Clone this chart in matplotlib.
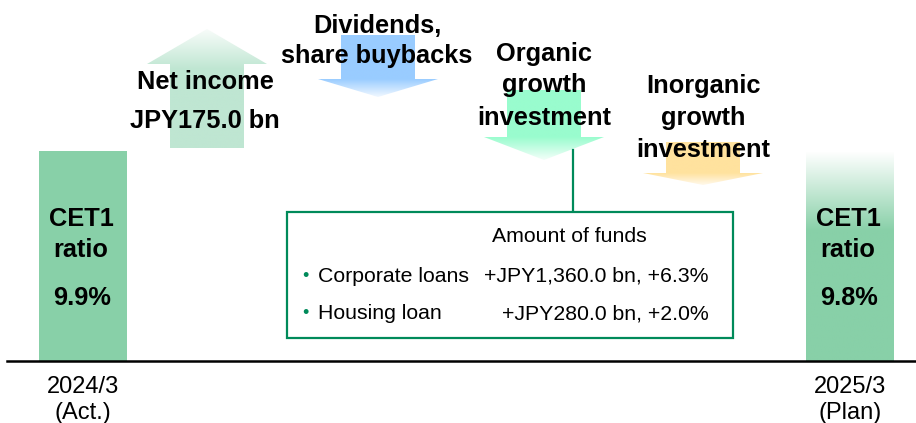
import numpy as np
import matplotlib.pyplot as plt
from matplotlib.patches import Polygon, Rectangle
from matplotlib.colors import to_rgb

plt.rcParams['font.family'] = ['Liberation Sans', 'DejaVu Sans']

# === Data ===
periods = ["2024/3", "2025/3"]
period_notes = ["(Act.)", "(Plan)"]
cet1_ratio = [9.9, 9.8]

flow_labels = [
    ["Net income", "JPY175.0 bn"],
    ["Dividends,", "share buybacks"],
    ["Organic", "growth", "investment"],
    ["Inorganic", "growth", "investment"],
]
flow_direction = [1, -1, -1, -1]   # 1 = up (adds capital), -1 = down (uses capital)

fund_title = "Amount of funds"
loan_items = ["Corporate loans", "Housing loan"]
loan_amounts = ["+JPY1,360.0 bn, +6.3%", "+JPY280.0 bn, +2.0%"]

# === Layout (pixel coordinates, y grows downwards) ===
W, H = 916, 423
base_y = 361
bar_x = [83, 850]
bar_w = 88
bar_top = 151
flow_x = [207, 378, 544, 703]
flow_span = [(29, 148), (35, 97), (90, 160), (142, 185)]   # (top, bottom) of each arrow
head_len = [35, 18, 23, 12]
flow_colors = ["#bfe6d2", "#99ccff", "#99fcce", "#ffe29e"]
flow_text_base = [[89, 128], [33, 63], [61, 92, 125], [93, 125, 157]]
flow_text_x = [205, 377, 544, 703]
shaft_w, head_w = 74, 120

bar_color = "#88d0a8"
green = "#008a5a"

fig = plt.figure(figsize=(W / 100, H / 100), dpi=100)
ax = fig.add_axes([0, 0, 1, 1])
ax.axis('off')


def gradient_fill(patch, color, y_white, y_full, zorder=1):
    """Fill a patch with a vertical white->color gradient."""
    ax.add_patch(patch)
    patch.set_facecolor('none')
    patch.set_edgecolor('none')
    ext = patch.get_path().get_extents(patch.get_transform() - ax.transData)
    ys = np.linspace(ext.y0, ext.y1, 200)
    t = np.clip((ys - y_white) / (y_full - y_white), 0, 1)
    c = np.array(to_rgb(color))
    img = (1 - t[:, None]) * np.ones(3) + t[:, None] * c
    im = ax.imshow(img[:, None, :], extent=(ext.x0, ext.x1, ext.y1, ext.y0),
                   origin='upper', aspect='auto', zorder=zorder, interpolation='bilinear')
    im.set_clip_path(patch)


# === CET1 bars (drawn the same height, it's a concept chart) ===
col_h = [base_y - bar_top] * len(cet1_ratio)
bars = ax.bar(bar_x, [-h for h in col_h], width=bar_w, bottom=base_y, color=bar_color, zorder=1)
# plan bar fades out at the top
bars[1].set_visible(False)
b = bars[1]
gradient_fill(Rectangle((b.get_x(), base_y - col_h[1]), b.get_width(), col_h[1]),
              bar_color, bar_top, bar_top + 80)

for i, r in enumerate(cet1_ratio):
    cx = bar_x[i] - 2
    ax.text(cx, 226, "CET1", ha='center', va='baseline', fontsize=18.3, fontweight='bold', zorder=5)
    ax.text(cx, 257, "ratio", ha='center', va='baseline', fontsize=18.3, fontweight='bold', zorder=5)
    ax.text(cx + 1, 305, f"{r:.1f}%", ha='center', va='baseline', fontsize=18.3, fontweight='bold', zorder=5)
    ax.text(bar_x[i], 393, periods[i], ha='center', va='baseline', fontsize=17, zorder=5)
    ax.text(bar_x[i], 419, period_notes[i], ha='center', va='baseline', fontsize=17, zorder=5)

# === Flow arrows ===
for i, d in enumerate(flow_direction):
    x = flow_x[i]
    top, bot = flow_span[i]
    hl = head_len[i]
    if d > 0:
        pts = [(x, top), (x + head_w / 2, top + hl), (x + shaft_w / 2, top + hl),
               (x + shaft_w / 2, bot), (x - shaft_w / 2, bot), (x - shaft_w / 2, top + hl),
               (x - head_w / 2, top + hl)]
        gradient_fill(Polygon(pts, closed=True), flow_colors[i], top - 5, top + hl + 5)
    else:
        pts = [(x, bot), (x + head_w / 2, bot - hl), (x + shaft_w / 2, bot - hl),
               (x + shaft_w / 2, top), (x - shaft_w / 2, top), (x - shaft_w / 2, bot - hl),
               (x - head_w / 2, bot - hl)]
        gradient_fill(Polygon(pts, closed=True), flow_colors[i], bot + 3, bot - hl)
    for line, yb in zip(flow_labels[i], flow_text_base[i]):
        ax.text(flow_text_x[i], yb, line, ha='center', va='baseline',
                fontsize=18.3, fontweight='bold', zorder=5)

# === Funds box ===
ax.plot([573, 573], [150, 212], color=green, lw=1.6, zorder=3)
ax.add_patch(Rectangle((287, 212), 446, 126, facecolor='white', edgecolor=green, lw=1.6, zorder=3))
ax.text(569, 242, fund_title, ha='center', va='baseline', fontsize=15.3, zorder=5)
for j, (item, amt) in enumerate(zip(loan_items, loan_amounts)):
    yb = 282 + j * 37
    ax.text(305, yb - 1, "•", ha='center', va='baseline', fontsize=13, color=green, zorder=5)
    ax.text(318, yb, item, ha='left', va='baseline', fontsize=15.3, zorder=5)
    ax.text(709, yb, amt, ha='right', va='baseline', fontsize=15.3, zorder=5)

# === Baseline ===
ax.plot([7, W], [base_y, base_y], color='black', lw=1.8, zorder=4)

ax.set_xlim(0, W)
ax.set_ylim(H, 0)
fig.savefig("out.png", dpi=100)
